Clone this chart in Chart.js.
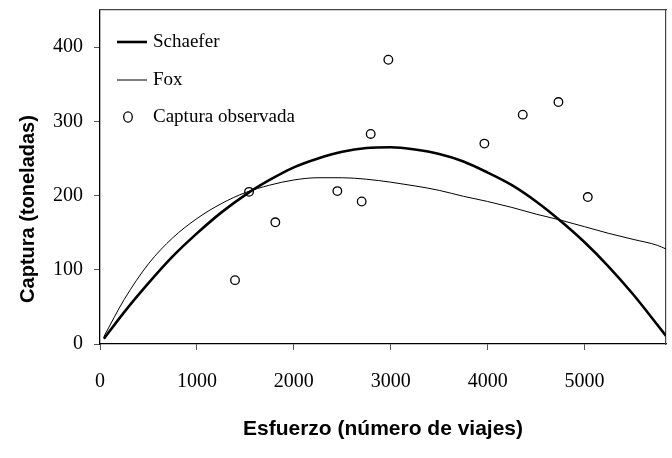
<!DOCTYPE html>
<html lang="es"><head>
  <meta charset="UTF-8">
  <title>Schaefer y Fox</title>
  <script src="https://cdn.jsdelivr.net/npm/chart.js"></script>
  <style>
    html, body { margin: 0; padding: 0; background: #fff; }
    #wrap { width: 672px; height: 458px; }
  </style>
</head><body>
<div id="wrap"><canvas id="chart" width="672" height="458"></canvas></div>
<script>
  // esfuerzo donde se leyeron las curvas
  const effortGrid = [40, 250, 500, 750, 1000, 1250, 1500, 1750, 2000, 2250, 2500, 2750, 3000,
    3250, 3500, 3750, 4000, 4250, 4500, 4750, 5000, 5250, 5500, 5750, 5840];
  const schaeferCatch = [7, 43, 82, 118, 149, 177, 201, 221, 238, 250, 259, 264, 265,
    262, 256, 246, 231, 214, 192, 166, 137, 104, 67, 26, 11];
  const foxCatch = [10, 60, 108, 143, 169, 189, 204, 214, 221, 224, 224, 222, 218,
    213, 207, 199, 192, 184, 175, 167, 158, 149, 141, 133, 128];

  // captura observada
  const obsEffort = [1393, 1538, 1809, 2449, 2700, 2793, 2975, 3966, 4362, 4730, 5033];
  const obsCatch = [86, 205, 164, 206, 192, 283, 383, 270, 309, 326, 198];

  const xTicks = [0, 1000, 2000, 3000, 4000, 5000];
  const yTicks = [0, 100, 200, 300, 400];

  const seriesNames = ['Schaefer', 'Fox', 'Captura observada'];

  const toPoints = (xs, ys) => xs.map((x, i) => ({ x: x, y: ys[i] }));

  // leyenda dentro del area de la grafica + titulo del eje y
  const extras = {
    id: 'extras',
    afterDraw(chart) {
      const ctx = chart.ctx;
      ctx.save();
      ctx.font = '19px "Liberation Serif", "Times New Roman", serif';
      ctx.fillStyle = '#000';
      ctx.textBaseline = 'middle';
      ctx.textAlign = 'left';
      const rows = [42, 80, 117];
      chart.data.datasets.forEach((ds, i) => {
        const y = rows[i];
        ctx.strokeStyle = '#000';
        if (ds.showLine) {
          ctx.lineWidth = ds.borderWidth;
          ctx.beginPath();
          ctx.moveTo(117, y);
          ctx.lineTo(147, y);
          ctx.stroke();
        } else {
          ctx.lineWidth = ds.pointBorderWidth;
          ctx.beginPath();
          ctx.ellipse(128, y, ds.pointRadius, ds.pointRadius + 0.8, 0, 0, Math.PI * 2);
          ctx.stroke();
        }
        ctx.fillText(ds.label, 153, y);
      });

      ctx.font = 'bold 20px "Liberation Sans", Arial, sans-serif';
      ctx.textAlign = 'center';
      ctx.translate(28, 209);
      ctx.rotate(-Math.PI / 2);
      ctx.fillText('Captura (toneladas)', 0, 0);
      ctx.restore();
    }
  };

  // ejes vacios arriba y a la derecha, solo para el marco
  const frameAxis = (pos) => ({
    type: 'linear',
    position: pos,
    display: true,
    ticks: { display: false },
    grid: { display: false, drawTicks: false },
    border: { display: true, color: '#444', width: 1.2 },
    afterFit: (s) => {
      if (pos === 'top') { s.height = 0; } else { s.width = 0; }
      s.paddingTop = 0; s.paddingBottom = 0; s.paddingLeft = 0; s.paddingRight = 0;
    }
  });

  const ctx = document.getElementById('chart').getContext('2d');
  const chart = new Chart(ctx, {
    type: 'scatter',
    data: {
      datasets: [
        {
          label: seriesNames[0],
          data: toPoints(effortGrid, schaeferCatch),
          showLine: true,
          borderColor: '#000',
          borderWidth: 2.6,
          pointRadius: 0,
          tension: 0.4,
          cubicInterpolationMode: 'monotone'
        },
        {
          label: seriesNames[1],
          data: toPoints(effortGrid, foxCatch),
          showLine: true,
          borderColor: '#000',
          borderWidth: 1,
          pointRadius: 0,
          tension: 0.4,
          cubicInterpolationMode: 'monotone'
        },
        {
          label: seriesNames[2],
          data: toPoints(obsEffort, obsCatch),
          showLine: false,
          pointRadius: 4.3,
          pointBorderWidth: 1.3,
          pointBorderColor: '#000',
          pointBackgroundColor: 'rgba(0,0,0,0)'
        }
      ]
    },
    options: {
      responsive: false,
      animation: false,
      devicePixelRatio: 1,
      layout: { padding: { top: 10, right: 6, left: 0, bottom: 0 } },
      plugins: {
        legend: { display: false },
        tooltip: { enabled: false }
      },
      scales: {
        x: {
          type: 'linear',
          min: 0,
          max: 5840,
          afterFit: (s) => { s.height = 114; s.paddingLeft = 0; s.paddingRight = 0; },
          afterBuildTicks: (s) => { s.ticks = xTicks.map(v => ({ value: v })); },
          border: { color: '#000', width: 1.3 },
          grid: { drawOnChartArea: false, tickLength: 6, color: '#555' },
          ticks: {
            padding: 20,
            maxRotation: 0,
            color: '#000',
            callback: (v) => String(v),
            font: { family: '"Liberation Serif", "Times New Roman", serif', size: 20 }
          },
          title: {
            display: true,
            text: 'Esfuerzo (número de viajes)',
            color: '#000',
            font: { family: '"Liberation Sans", Arial, sans-serif', size: 21, weight: 'bold' },
            padding: { top: 0, bottom: 16 }
          }
        },
        y: {
          min: 0,
          max: 450,
          afterFit: (s) => { s.width = 100; s.paddingTop = 0; s.paddingBottom = 0; },
          afterBuildTicks: (s) => { s.ticks = yTicks.map(v => ({ value: v })); },
          border: { color: '#000', width: 1.3 },
          grid: { drawOnChartArea: false, tickLength: 6, color: '#555' },
          ticks: {
            padding: 11,
            color: '#000',
            callback: (v) => String(v),
            font: { family: '"Liberation Serif", "Times New Roman", serif', size: 20 }
          }
        },
        xTop: frameAxis('top'),
        yRight: frameAxis('right')
      }
    },
    plugins: [extras]
  });
</script>
</body></html>
